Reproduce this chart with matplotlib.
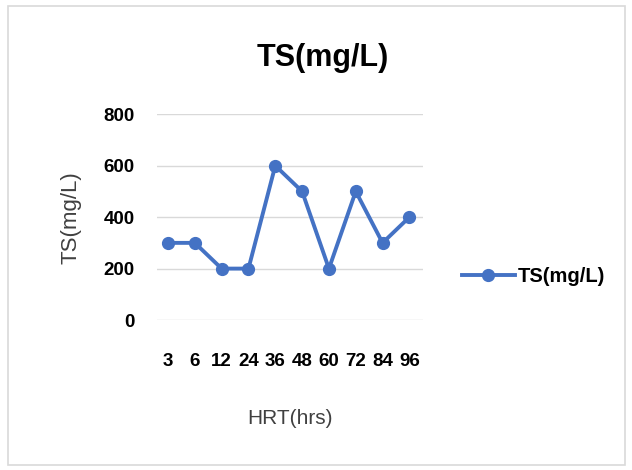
import matplotlib
matplotlib.use("Agg")
from matplotlib import pyplot as plt
from matplotlib.patches import Rectangle

plt.rcParams['font.family'] = ['Liberation Sans', 'DejaVu Sans']

hrt = ["3", "6", "12", "24", "36", "48", "60", "72", "84", "96"]
ts = [300, 300, 200, 200, 600, 500, 200, 500, 300, 400]
yticks = [0, 200, 400, 600, 800]

fig = plt.figure(figsize=(6.32, 4.70), dpi=100)
fig.patches.append(Rectangle((0.013, 0.01), 0.976, 0.978, transform=fig.transFigure,
                             fill=False, edgecolor="#d9d9d9", linewidth=1.2))

ax = fig.add_axes([0.248, 0.319, 0.421, 0.438])
x = list(range(len(hrt)))
ax.plot(x, ts, color="#4472C4", marker="o", markersize=8.5, linewidth=2.8, label="TS(mg/L)")

ax.set_xlim(-0.42, 9.5)
ax.set_ylim(0, 800)
ax.set_yticks(yticks)
ax.set_xticks(x)
ax.set_xticklabels(hrt, fontsize=13.5, fontweight="bold")
ax.set_yticklabels([str(v) for v in yticks], fontsize=13.5, fontweight="bold")
ax.grid(axis="y", color="#d9d9d9", linewidth=1)
ax.set_axisbelow(True)
for s in ax.spines.values():
    s.set_visible(False)
ax.tick_params(length=0, pad=16)
ax.tick_params(axis="x", pad=24)

ax.set_xlabel("HRT(hrs)", fontsize=15, color="#404040", labelpad=28)
ax.set_ylabel("TS(mg/L)", fontsize=16, color="#404040", labelpad=16)

fig.text(0.51, 0.877, "TS(mg/L)", ha="center", va="center", fontsize=22, fontweight="bold")

ax.legend(loc="center left", bbox_to_anchor=(1.08, 0.21), frameon=False,
          prop={"size": 14.5, "weight": "bold"}, handlelength=2.6, handletextpad=0.15)

fig.savefig("out.png", dpi=100)
